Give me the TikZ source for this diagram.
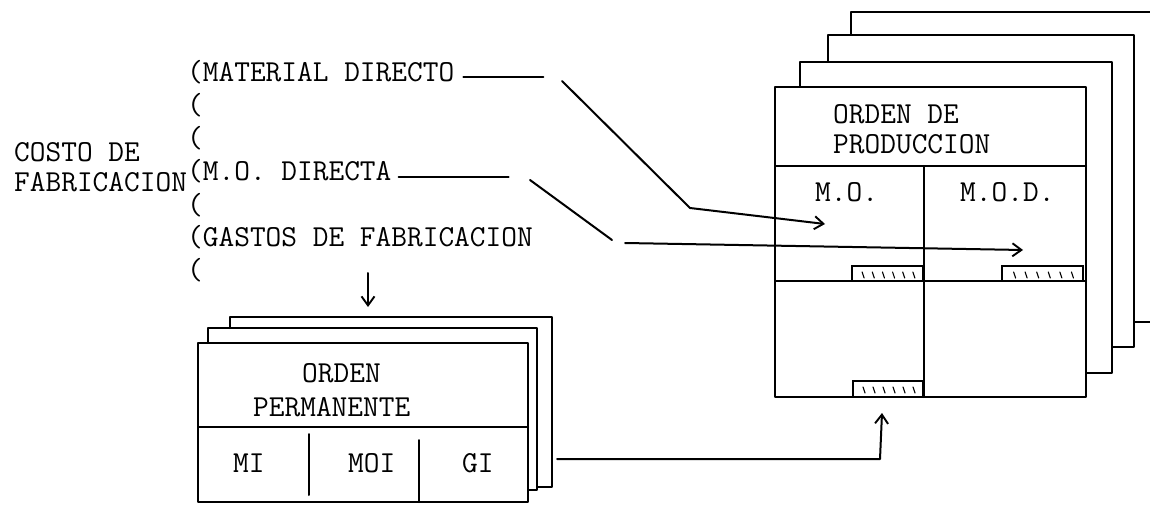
\documentclass[tikz,border=0pt]{standalone}
\usetikzlibrary{arrows.meta}
\begin{document}
\begin{tikzpicture}[x=1pt,y=-1pt,
  ink/.style={line width=2pt, line cap=round, line join=round},
  txt/.style={inner sep=0pt, anchor=base west, font=\fontsize{30.5}{30}\selectfont\ttfamily},
  arr/.style={ink, -{Straight Barb[length=9pt,width=13pt,line width=1.9pt]}},
  stampline/.style={line width=1.5pt, line cap=round},
  tick/.style={line width=1.1pt, line cap=round}]
\useasboundingbox (0,0) rectangle (1150,505);

% ---- left column: cost components ----
\node[txt] (costo) at (14,162) {COSTO DE};
\node[txt] (fabr)  at (14,191) {FABRICACION};
\node[txt] (mat) at (187,82)  {(MATERIAL DIRECTO};
\node[txt] (p1)  at (187,115) {(};
\node[txt] (p2)  at (187,148) {(};
\node[txt] (mod) at (187,181) {(M.O. DIRECTA};
\node[txt] (p3)  at (187,214) {(};
\node[txt] (gas) at (187,246) {(GASTOS DE FABRICACION};
\node[txt] (p4)  at (187,279) {(};

% ---- production order stack (right) ----
\draw[ink] (851,35) -- (851,12) -- (1150,12);
\draw[ink] (1134,322) -- (1150,322);
\draw[ink] (828,62) -- (828,35) -- (1134,35) -- (1134,347) -- (1112,347);
\draw[ink] (800,87) -- (800,62) -- (1112,62) -- (1112,373) -- (1086,373);
\draw[ink] (775,87) rectangle (1086,397);
\draw[ink] (775,166) -- (1086,166);
\draw[ink] (924,166) -- (924,397);
\draw[ink] (775,281) -- (1086,281);
\node[txt] (op1) at (833,124) {ORDEN DE};
\node[txt] (op2) at (833,154) {PRODUCCION};
\node[txt] (mo)  at (815,201) {M.O.};
\node[txt] (mod2) at (960,201) {M.O.D.};

% stamps
\foreach \x/\y/\w in {852/266/71, 1002/266/81, 853/381/70} {
  \draw[stampline] (\x,\y+15) -- (\x,\y) -- (\x+\w,\y) -- (\x+\w,\y+15);
  \foreach \k in {1,...,6}
    \draw[tick] (\x+\k*\w/7,\y+6) -- (\x+\k*\w/7+2,\y+12);
}

% ---- permanent order stack (bottom left) ----
\draw[ink] (230,328) -- (230,317) -- (552,317) -- (552,487) -- (537,487);
\draw[ink] (208,343) -- (208,328) -- (537,328) -- (537,490) -- (528,490);
\draw[ink] (198,343) rectangle (528,502);
\draw[ink] (198,427) -- (528,427);
\draw[ink] (309,434) -- (309,495);
\draw[ink] (419,440) -- (419,502);
\node[txt] (pe1) at (302,382) {ORDEN};
\node[txt] (pe2) at (253,416) {PERMANENTE};
\node[txt] (mi)  at (233,472) {MI};
\node[txt] (moi) at (348,472) {MOI};
\node[txt] (gi)  at (462,472) {GI};

% ---- connectors ----
\coordinate (d1a) at (562,81);
\coordinate (d1b) at (690,208);
\coordinate (t1)  at (825,224);
\coordinate (d2a) at (530,180);
\coordinate (d2b) at (612,240);
\coordinate (h2a) at (625,243);
\coordinate (t2)  at (1023,250);
\coordinate (g1)  at (368,273);
\coordinate (g2)  at (368,307);
\coordinate (q1)  at (557,459);
\coordinate (q2)  at (880,459);
\coordinate (q3)  at (882,413);

\draw[ink] ([shift={(9,-5)}]mat.base east) -- ++(80,0);
\draw[arr] (d1a) -- (d1b) -- (t1);
\draw[ink] ([shift={(7,-4)}]mod.base east) -- ++(110,0);
\draw[ink] (d2a) -- (d2b);
\draw[arr] (h2a) -- (t2);
\draw[arr] (g1) -- (g2);
\draw[arr] (q1) -- (q2) -- (q3);
\end{tikzpicture}
\end{document}
